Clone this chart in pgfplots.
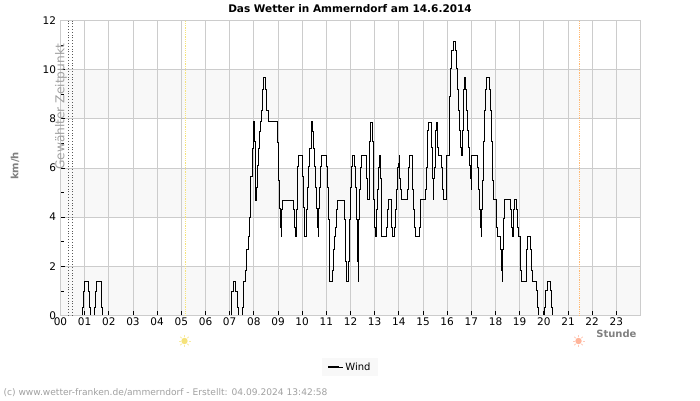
\documentclass[border=0pt]{standalone}
\usepackage{fontspec}
\setmainfont{DejaVu Sans}
\usepackage{pgfplots}
\pgfplotsset{compat=1.18}
\definecolor{gridGray}{HTML}{CCCCCC}
\definecolor{bandGray}{HTML}{F8F8F8}
\definecolor{labelGray}{HTML}{808080}
\definecolor{noteGray}{HTML}{A0A0A0}
\definecolor{sunYellow}{HTML}{F5E27A}
\definecolor{sunRed}{HTML}{FFB49A}
\begin{document}
\begin{tikzpicture}
  \path (0,0) rectangle (700pt,400pt);
  \begin{axis}[
    at={(60.5pt,84.5pt)}, anchor=south west,
    scale only axis, width=580pt, height=295pt,
    set layers, clip=false,
    xmin=0, xmax=24, ymin=0, ymax=12,
    xtick={0,1,...,23},
    xticklabels={00,01,02,03,04,05,06,07,08,09,10,11,12,13,14,15,16,17,18,19,20,21,22,23},
    ytick={0,2,...,12},
    minor ytick={1,3,...,11},
    xtick pos=bottom, ytick pos=left,
    tick align=inside,
    major tick length=4.5pt, minor tick length=3.5pt,
    tick style={draw=black,line width=0.8pt},
    minor tick style={draw=black,line width=0.8pt},
    axis line style={draw=gridGray,line width=0.8pt},
    xmajorgrids, ymajorgrids,
    major grid style={draw=gridGray,line width=0.8pt},
    tick label style={font=\fontsize{10.5}{12}\selectfont},
    /pgf/number format/assume math mode=true,
    xticklabel style={yshift=1pt},
    yticklabel style={xshift=-1pt},
    legend image code/.code={
      \draw[black,line width=1.6pt] (0pt,0pt) -- (11pt,0pt);
      \path (0pt,0pt) -- (15pt,0pt);
    },
    legend style={
      at={(0.499,-0.144)}, anchor=north, draw=none, fill=bandGray,
      font=\fontsize{10}{12}\selectfont,
      inner xsep=5pt, inner ysep=2.5pt,
      legend cell align=left,
    },
  ]
    \begin{pgfonlayer}{axis background}
      \fill[bandGray] (axis cs:0,0) rectangle (axis cs:24,2);
      \fill[bandGray] (axis cs:0,4) rectangle (axis cs:24,6);
      \fill[bandGray] (axis cs:0,8) rectangle (axis cs:24,10);
    \end{pgfonlayer}
    \addplot[forget plot,draw=black!65,line width=0.8pt,dotted] coordinates {(0.33,0) (0.33,12)};
    \addplot[forget plot,draw=black!65,line width=0.8pt,dotted] coordinates {(0.50,0) (0.50,12)};
    \addplot[forget plot,draw=sunYellow,line width=0.8pt,densely dotted] coordinates {(5.16,0) (5.16,12)};
    \addplot[forget plot,draw=orange!55,line width=0.8pt,densely dotted] coordinates {(21.47,0) (21.47,12)};
    \addplot[const plot,unbounded coords=jump,draw=black,line width=0.7pt] coordinates {
      (0.91,0) (0.91,0.35) (0.95,1.0) (0.99,1.4) (1.17,1.0) (1.20,0.35) (1.24,0) (1.30,nan)
      (1.42,0) (1.42,0.35) (1.46,1.0) (1.50,1.4) (1.67,1.0) (1.70,0.35) (1.74,0) (1.80,nan)
      (7.05,0) (7.05,0.35) (7.09,1.0) (7.16,1.4) (7.25,1.0) (7.30,0.35) (7.36,0) (7.40,nan)
      (7.53,0) (7.53,0.35) (7.55,1.0) (7.58,1.4) (7.66,1.85) (7.70,2.7) (7.76,3.2) (7.83,4.0)
      (7.87,5.65) (7.92,6.8) (7.96,7.5) (7.99,7.9) (8.02,7.1) (8.05,5.6) (8.07,4.7) (8.10,5.2)
      (8.16,6.1) (8.20,6.8) (8.24,7.5) (8.28,7.9) (8.32,8.35) (8.36,9.2) (8.40,9.67) (8.49,9.2)
      (8.53,8.35) (8.58,7.9) (8.98,7.05) (9.02,5.5) (9.05,4.35) (9.08,3.6) (9.12,3.2) (9.15,4.3)
      (9.19,4.7) (9.64,4.3) (9.69,3.6) (9.73,3.2) (9.75,4.3) (9.78,5.2) (9.82,6.07) (9.86,6.5)
      (10.02,5.66) (10.04,4.4) (10.07,3.6) (10.10,3.2) (10.19,4.3) (10.22,5.2) (10.26,6.07)
      (10.30,6.8) (10.36,7.5) (10.40,7.9) (10.43,7.5) (10.47,6.8) (10.50,6.07) (10.54,5.2)
      (10.58,4.35) (10.62,3.6) (10.66,3.2) (10.69,4.35) (10.72,5.2) (10.76,6.07) (10.80,6.5)
      (11.01,6.07) (11.03,5.2) (11.08,3.9) (11.12,2.25) (11.14,1.4) (11.25,1.85) (11.28,2.7)
      (11.32,3.2) (11.36,3.6) (11.42,4.3) (11.46,4.7) (11.75,3.9) (11.78,2.2) (11.82,1.4)
      (11.92,2.2) (11.94,3.9) (11.98,5.2) (12.03,6.07) (12.07,6.5) (12.16,6.07) (12.21,5.2)
      (12.25,3.9) (12.29,2.2) (12.32,1.4) (12.34,3.9) (12.37,5.15) (12.41,6.04) (12.45,6.5)
      (12.65,5.57) (12.69,5.15) (12.71,4.73) (12.78,7.09) (12.83,7.87) (12.92,7.09) (12.96,4.73)
      (13.00,3.6) (13.04,3.2) (13.08,4.32) (13.11,5.15) (13.15,6.04) (13.19,6.5) (13.23,5.57)
      (13.26,4.05) (13.29,3.2) (13.50,3.6) (13.52,4.32) (13.56,4.73) (13.67,4.32) (13.70,3.6)
      (13.73,3.2) (13.83,3.6) (13.85,4.32) (13.88,5.15) (13.92,6.04) (13.96,6.2) (14.01,6.5)
      (14.03,5.57) (14.06,5.15) (14.10,4.73) (14.36,5.15) (14.39,6.04) (14.43,6.5) (14.54,6.04)
      (14.57,5.15) (14.61,4.32) (14.64,3.6) (14.68,3.2) (14.86,3.6) (14.89,4.32) (14.91,4.73)
      (15.09,5.15) (15.12,6.04) (15.16,6.86) (15.20,7.53) (15.24,7.87) (15.35,6.86) (15.38,5.57)
      (15.41,4.73) (15.44,5.57) (15.48,6.04) (15.52,7.53) (15.56,7.87) (15.60,6.86) (15.64,6.5)
      (15.77,6.04) (15.80,5.15) (15.84,4.73) (15.95,6.04) (15.97,6.5) (16.08,7.26) (16.11,8.9)
      (16.15,10.04) (16.19,10.8) (16.24,11.17) (16.35,10.8) (16.39,10.04) (16.41,9.2) (16.46,8.35)
      (16.50,7.53) (16.54,6.86) (16.58,6.5) (16.61,7.53) (16.65,8.35) (16.69,9.2) (16.73,9.67)
      (16.76,9.2) (16.80,8.35) (16.83,7.53) (16.86,6.86) (16.90,6.1) (16.94,5.57) (16.98,5.15)
      (17.01,6.04) (17.02,6.5) (17.25,6.04) (17.28,5.15) (17.32,4.32) (17.37,3.6) (17.41,3.2)
      (17.43,4.32) (17.46,5.5) (17.50,7.09) (17.54,8.35) (17.59,9.2) (17.63,9.67) (17.75,9.2)
      (17.79,8.35) (17.83,7.09) (17.87,5.5) (17.92,4.73) (18.04,3.6) (18.08,3.2) (18.21,2.7)
      (18.25,1.85) (18.29,1.4) (18.30,2.7) (18.33,3.94) (18.38,4.73) (18.62,4.32) (18.66,3.6)
      (18.70,3.2) (18.74,4.32) (18.77,4.73) (18.88,4.32) (18.91,3.6) (18.93,3.2) (19.03,1.85)
      (19.07,1.4) (19.28,2.7) (19.32,3.2) (19.46,2.7) (19.49,1.85) (19.53,1.4) (19.69,1.03)
      (19.73,0.35) (19.76,0) (19.85,nan)
      (20.02,0) (20.02,0.35) (20.06,1.03) (20.13,1.4) (20.27,1.03) (20.31,0.35) (20.35,0)
    };
    \addlegendentry{Wind}
  \end{axis}
  % page coordinates: y is 400 minus the pixel row
  \node[font=\fontsize{10.5}{12}\selectfont\bfseries,anchor=center] at (350pt,391.5pt)
    {Das Wetter in Ammerndorf am 14.6.2014};
  \node[font=\fontsize{10}{12}\selectfont\bfseries,text=labelGray,rotate=90] at (15pt,234pt) {km/h};
  \node[font=\fontsize{10}{12}\selectfont\bfseries,text=labelGray,anchor=east] at (640pt,66pt) {Stunde};
  \node[font=\fontsize{12.2}{13}\selectfont,text=noteGray,rotate=90] at (61pt,293pt) {Gewählter Zeitpunkt};
  \node[font=\fontsize{9.1}{10}\selectfont,text=noteGray,anchor=west] at (0pt,7pt)
    {(c) www.wetter-franken.de/ammerndorf - Erstellt: 04.09.2024 13:42:58};
  \fill[sunYellow] (184.5pt,59pt) circle (3.2pt);
  \foreach \a in {0,45,...,315}
    \draw[sunYellow!70,line width=0.8pt] (184.5pt,59pt) ++(\a:4pt) -- ++(\a:2pt);
  \fill[sunRed] (578.5pt,59pt) circle (3.2pt);
  \foreach \a in {0,45,...,315}
    \draw[sunRed!70,line width=0.8pt] (578.5pt,59pt) ++(\a:4pt) -- ++(\a:2pt);
\end{tikzpicture}
\end{document}
